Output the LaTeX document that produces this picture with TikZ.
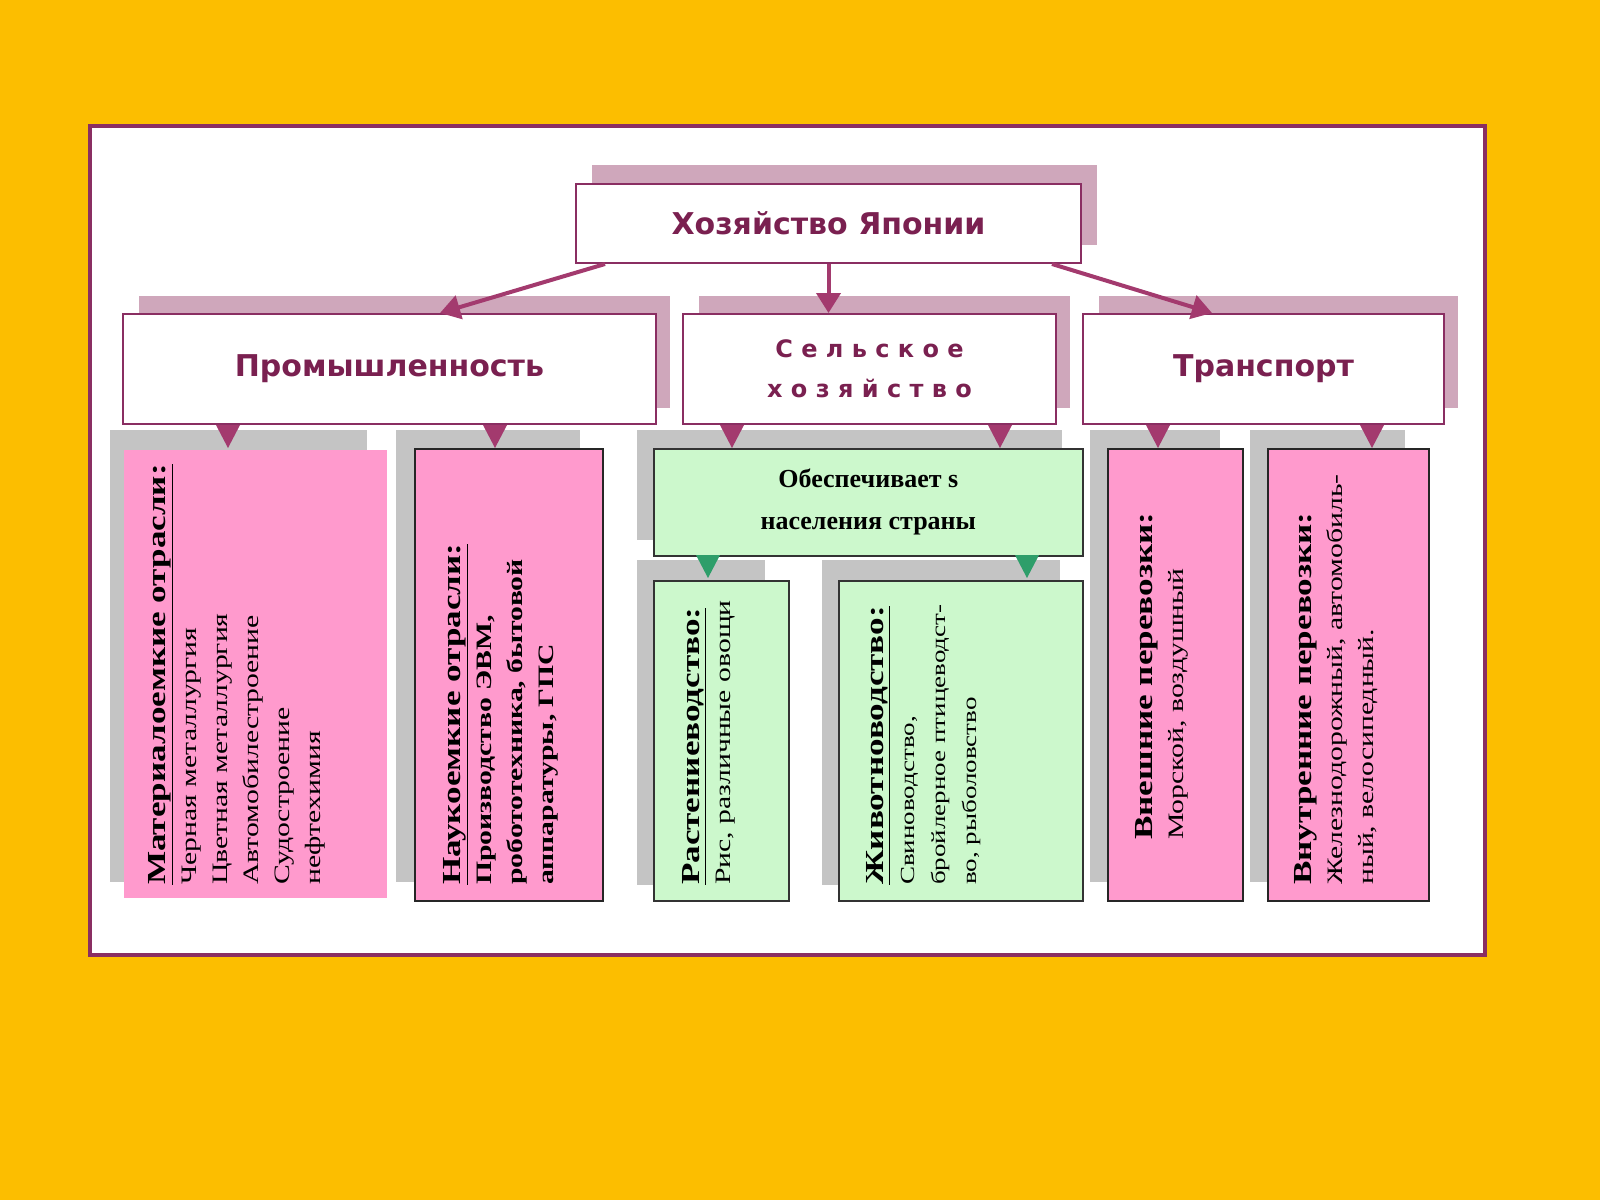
\documentclass[tikz,border=0pt]{standalone}
\usepackage{fontspec}
\setmainfont{Liberation Serif}
\newfontfamily\wide[FakeStretch=1.35]{Liberation Serif}
\newfontfamily\hdr{DejaVu Sans}
\usetikzlibrary{arrows.meta,calc}
\definecolor{bg}{HTML}{FCBE00}
\definecolor{pur}{HTML}{8A2E62}
\definecolor{hdrc}{HTML}{7A2050}
\definecolor{pinkc}{HTML}{FF9ACD}
\definecolor{greenc}{HTML}{CCF8CC}
\definecolor{shpink}{HTML}{CFA7BB}
\definecolor{shgray}{HTML}{C4C4C4}
\definecolor{tri}{HTML}{A33A6E}
\definecolor{trig}{HTML}{2E9E6A}
\tikzset{
 x=1pt,y=1pt,
 topbox/.style={draw=pur,line width=2pt,fill=white},
 shadowp/.style={fill=shpink},
 shadowg/.style={fill=shgray},
 pinkbox/.style={fill=pinkc,draw=black!85,line width=1.6pt},
 greenbox/.style={fill=greenc,draw=black!80,line width=1.6pt},
 hlabel/.style={font=\hdr\bfseries\fontsize{30}{34}\selectfont,text=hdrc},
 vtext/.style={rotate=90,anchor=north west,align=left,inner sep=0pt,font=\wide\fontsize{22}{31}\selectfont},
 parrow/.style={draw=tri,line width=4pt,-{Triangle[length=20pt,width=24pt]}},
}
\newcommand{\hd}[1]{\textbf{\fontsize{26}{31}\selectfont\underline{#1}}}
\begin{document}
\begin{tikzpicture}
\useasboundingbox (0,0) rectangle (1600,-1200);
\fill[bg] (0,0) rectangle (1600,-1200);
\draw[pur,line width=4pt,fill=white] (90,-126) rectangle (1485,-955);
% top
\fill[shadowp] (592,-165) rectangle (1097,-245);
\node[topbox,minimum width=505,minimum height=79,anchor=north west,hlabel] (top) at (575,-183) {Хозяйство Японии};
% level 2
\fill[shadowp] (139,-296) rectangle (670,-408);
\fill[shadowp] (699,-296) rectangle (1070,-408);
\fill[shadowp] (1099,-296) rectangle (1458,-408);
\node[topbox,minimum width=533,minimum height=110,anchor=north west,hlabel] (prom) at (122,-313) {Промышленность};
\node[topbox,minimum width=373,minimum height=110,anchor=north west,hlabel,align=center,font=\hdr\bfseries\fontsize{24}{40}\selectfont] (selh) at (682,-313) {С е л ь с к о е\\х о з я й с т в о};
\node[topbox,minimum width=361,minimum height=110,anchor=north west,hlabel] (tran) at (1082,-313) {Транспорт};
\draw[parrow] ($(top.south west)+(30,0)$) -- ($(prom.north west)+(318,0)$);
\draw[parrow] (top.south) -- (top.south |- selh.north);
\draw[parrow] ($(top.south east)+(-30,0)$) -- ($(tran.north west)+(130,0)$);
% level 3 shadows
\fill[shadowg] (110,-430) rectangle (367,-882);
\fill[shadowg] (396,-430) rectangle (580,-882);
\fill[shadowg] (637,-430) rectangle (1062,-540);
\fill[shadowg] (637,-560) rectangle (765,-885);
\fill[shadowg] (822,-560) rectangle (1060,-885);
\fill[shadowg] (1090,-430) rectangle (1220,-882);
\fill[shadowg] (1250,-430) rectangle (1405,-882);
% boxes
\node[fill=pinkc,minimum width=263,minimum height=448,anchor=north west,inner sep=0] (mat) at (124,-450) {};
\node[pinkbox,minimum width=188,minimum height=452,anchor=north west,inner sep=0] (nauk) at (414,-448) {};
\node[greenbox,minimum width=429,minimum height=107,anchor=north west,align=center,font=\bfseries\fontsize{26}{42}\selectfont] (obes) at (653,-448) {Обеспечивает s\\населения страны};
\node[greenbox,minimum width=135,minimum height=320,anchor=north west,inner sep=0] (rast) at (653,-580) {};
\node[greenbox,minimum width=244,minimum height=320,anchor=north west,inner sep=0] (zhiv) at (838,-580) {};
\node[pinkbox,minimum width=135,minimum height=452,anchor=north west,inner sep=0] (vnesh) at (1107,-448) {};
\node[pinkbox,minimum width=161,minimum height=452,anchor=north west,inner sep=0] (vnut) at (1267,-448) {};
% triangles
\foreach \xx/\yy/\cc in {228/-425/tri,495/-425/tri,732/-425/tri,1000/-425/tri,1158/-425/tri,1372/-425/tri,708/-555/trig,1027/-555/trig}
  \fill[\cc] (\xx-12,\yy) -- (\xx+12,\yy) -- (\xx,\yy-23) -- cycle;
% texts
\node[vtext] (t1) at (148,-885) {\hd{Материалоемкие отрасли:}\\Черная металлургия\\Цветная металлургия\\Автомобилестроение\\Судостроение\\нефтехимия};
\node[vtext,font=\wide\bfseries\fontsize{22}{31}\selectfont] (t2) at (443,-885) {\hd{Наукоемкие отрасли:}\\Производство ЭВМ,\\робототехника, бытовой\\аппаратуры, ГПС};
\node[vtext] (t3) at (682,-885) {\hd{Растениеводство:}\\Рис, различные овощи};
\node[vtext,font=\wide\fontsize{20}{31}\selectfont] (t4) at (866,-885) {\hd{Животноводство:}\\Свиноводство,\\бройлерное птицеводст-\\во, рыболовство};
\node[vtext] (t5) at (1135,-840) {\textbf{\fontsize{26}{31}\selectfont Внешние перевозки:}\\Морской, воздушный};
\node[vtext] (t6) at (1294,-885) {\textbf{\fontsize{26}{31}\selectfont Внутренние перевозки:}\\Железнодорожный, автомобиль-\\ный, велосипедный.};
\end{tikzpicture}
\end{document}
